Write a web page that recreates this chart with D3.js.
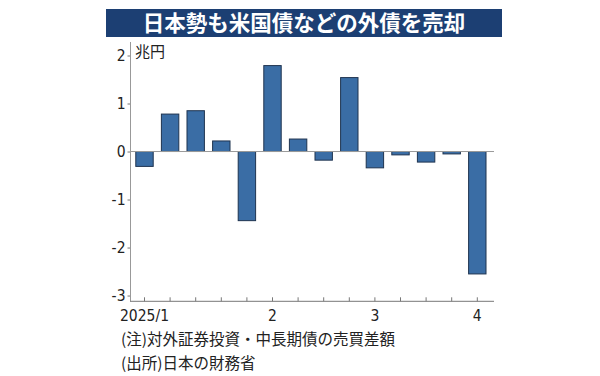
<!DOCTYPE html>
<html><head><meta charset="utf-8">
<script src="https://cdn.jsdelivr.net/npm/d3@7"></script>
<style>
html,body{margin:0;padding:0;background:#fff;}
svg{display:block;}
</style></head>
<body><svg id="c" width="600" height="376"></svg>
<script>
const title = "日本勢も米国債などの外債を売却";
const unitLabel = "兆円";
const weeks = ["1-1","1-2","1-3","1-4","1-5","2-1","2-2","2-3","2-4","3-1","3-2","3-3","3-4","4-1"];
const values = [-0.31, 0.78, 0.85, 0.22, -1.44, 1.79, 0.26, -0.18, 1.54, -0.34, -0.07, -0.22, -0.05, -2.55];
const xTickLabels = {0:"2025/1", 5:"2", 9:"3", 13:"4"};
const yTicks = [2, 1, 0, -1, -2, -3];
const notes = ["(注)対外証券投資・中長期債の売買差額", "(出所)日本の財務省"];

const svg = d3.select("#c");
const cjk = "'Noto Sans CJK JP','Noto Sans CJK SC',sans-serif";
const narrow = "'Liberation Sans Narrow','DejaVu Sans Condensed','Noto Sans CJK JP',sans-serif";

// title bar
svg.append("rect").attr("x",106).attr("y",9).attr("width",396).attr("height",28).attr("fill","#1c3f73");
svg.append("text").attr("x",304).attr("y",30.5).attr("text-anchor","middle")
  .attr("fill","#fff").attr("font-family",cjk).attr("font-weight","bold").attr("font-size",21.5)
  .text(title);

const x = d3.scaleBand().domain(d3.range(weeks.length)).range([131.7,490.1]).paddingInner(0.32).paddingOuter(0.16);
const y = d3.scaleLinear().domain([-3.12,2.2]).range([301.3,45.9]);

// bars
svg.append("g").selectAll("rect").data(values).join("rect")
  .attr("x",(d,i)=>x(i)).attr("width",x.bandwidth())
  .attr("y",d=>y(Math.max(0,d))).attr("height",d=>Math.abs(y(d)-y(0)))
  .attr("fill","#3a6da5").attr("stroke","#1f3450").attr("stroke-width",1);

// zero line
svg.append("line").attr("x1",130).attr("x2",494).attr("y1",y(0)).attr("y2",y(0))
  .attr("stroke","#9a9a9a").attr("stroke-width",1);

// y axis
const yAxis = d3.axisLeft(y).tickValues(yTicks).tickSize(3).tickPadding(2).tickFormat(d=>String(d));
const gy = svg.append("g").attr("transform","translate(130.5,0)").call(yAxis);
gy.select(".domain").remove();
gy.append("line").attr("x1",0).attr("x2",0).attr("y1",42).attr("y2",y(-3.12)).attr("stroke","#999");
gy.selectAll(".tick line").attr("stroke","#777");
gy.selectAll(".tick text").attr("font-family",narrow).attr("font-size",15.5).attr("fill","#222");

// x axis
const xAxis = d3.axisBottom(x).tickSize(-4).tickPadding(6).tickFormat(i=>xTickLabels[i]||"");
const gx = svg.append("g").attr("transform",`translate(0,${y(-3.12)})`).call(xAxis);
gx.select(".domain").remove();
gx.append("line").attr("x1",130).attr("x2",494).attr("stroke","#777");
gx.selectAll(".tick line").attr("stroke","#777");
gx.selectAll(".tick text").attr("font-family",narrow).attr("font-size",15.5).attr("fill","#222").attr("dy","0.9em");

// unit label
svg.append("text").attr("x",135).attr("y",56.5).attr("font-family",cjk).attr("font-size",15).attr("fill","#222").text(unitLabel);

// notes
svg.selectAll("text.note").data(notes).join("text").attr("class","note")
  .attr("x",121).attr("y",(d,i)=>344.5+i*24)
  .attr("font-family",cjk).attr("font-size",15.5).attr("fill","#222").text(d=>d);
</script></body></html>
